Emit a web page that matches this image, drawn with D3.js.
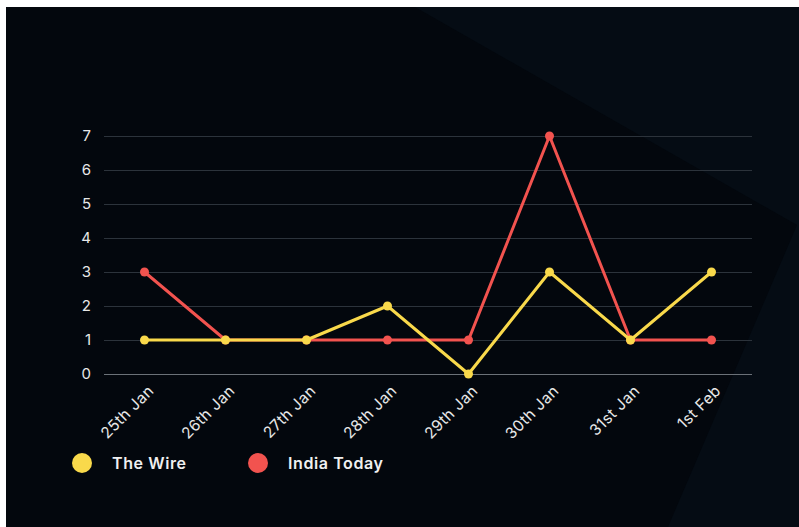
<!DOCTYPE html>
<html><head><meta charset="utf-8">
<script src="https://cdn.jsdelivr.net/npm/d3@7"></script>
<style>html,body{margin:0;padding:0;background:#fff;}svg{display:block;}</style>
</head><body>
<svg id="chart" width="799" height="527"></svg>
<script>
const categories = ["25th Jan","26th Jan","27th Jan","28th Jan","29th Jan","30th Jan","31st Jan","1st Feb"];
const theWire = [1,1,1,2,0,3,1,3];
const indiaToday = [3,1,1,1,1,7,1,1];
const yTicks = [0,1,2,3,4,5,6,7];
const seriesNames = ["The Wire","India Today"];
const seriesColors = ["#f9d94b","#f2534f"];

const svg = d3.select("#chart");
// background
svg.append("rect").attr("x",6).attr("y",7).attr("width",793).attr("height",520).attr("fill","#050c14");
svg.append("polygon").attr("points","6,7 415,7 797,225 668,527 6,527").attr("fill","#03070d");

const x = d3.scalePoint().domain(categories).range([104,752]).padding(0.5);
const y = d3.scaleLinear().domain([0,7]).range([374,136]);

const font = "Inter, 'DejaVu Sans', sans-serif";

// grid
const yAxis = svg.append("g").attr("transform","translate(104,0)")
  .call(d3.axisLeft(y).tickValues(yTicks).tickSize(-648).tickFormat(d3.format("d")).tickPadding(13));
yAxis.select(".domain").remove();
yAxis.selectAll(".tick line").attr("stroke",d=>d===0?"#6b7178":"#2c333b").attr("stroke-width",1);
yAxis.selectAll(".tick text").attr("fill","#e8e8e8").style("font-family",font).style("font-size","15px");

const xAxis = svg.append("g").attr("transform","translate(0,374)")
  .call(d3.axisBottom(x).tickSize(0).tickPadding(0));
xAxis.select(".domain").remove();
xAxis.selectAll(".tick text")
  .attr("fill","#e8e8e8").style("font-family",font).style("font-size","15.5px")
  .style("letter-spacing","0.4px")
  .attr("text-anchor","end").attr("dy","0.35em")
  .attr("transform","translate(6,14) rotate(-45)");

const data = [theWire, indiaToday];
const line = d3.line().x((d,i)=>x(categories[i])).y(d=>y(d));
[1,0].forEach(s=>{
  svg.append("path").datum(data[s]).attr("d",line).attr("fill","none")
    .attr("stroke",seriesColors[s]).attr("stroke-width",3).attr("stroke-linejoin","round");
  svg.selectAll(null).data(data[s]).enter().append("circle")
    .attr("cx",(d,i)=>x(categories[i])).attr("cy",d=>y(d)).attr("r",4.5).attr("fill",seriesColors[s]);
});

// legend
const legX = [82,258];
seriesNames.forEach((n,i)=>{
  svg.append("circle").attr("cx",legX[i]).attr("cy",463).attr("r",10).attr("fill",seriesColors[i]);
  svg.append("text").attr("x",legX[i]+30).attr("y",463).attr("dy","0.35em")
    .attr("fill","#f0f0f0").style("font-family",font).style("font-size","16px").style("font-weight","600")
    .style("letter-spacing","0.6px")
    .text(n);
});
</script>
</body></html>
